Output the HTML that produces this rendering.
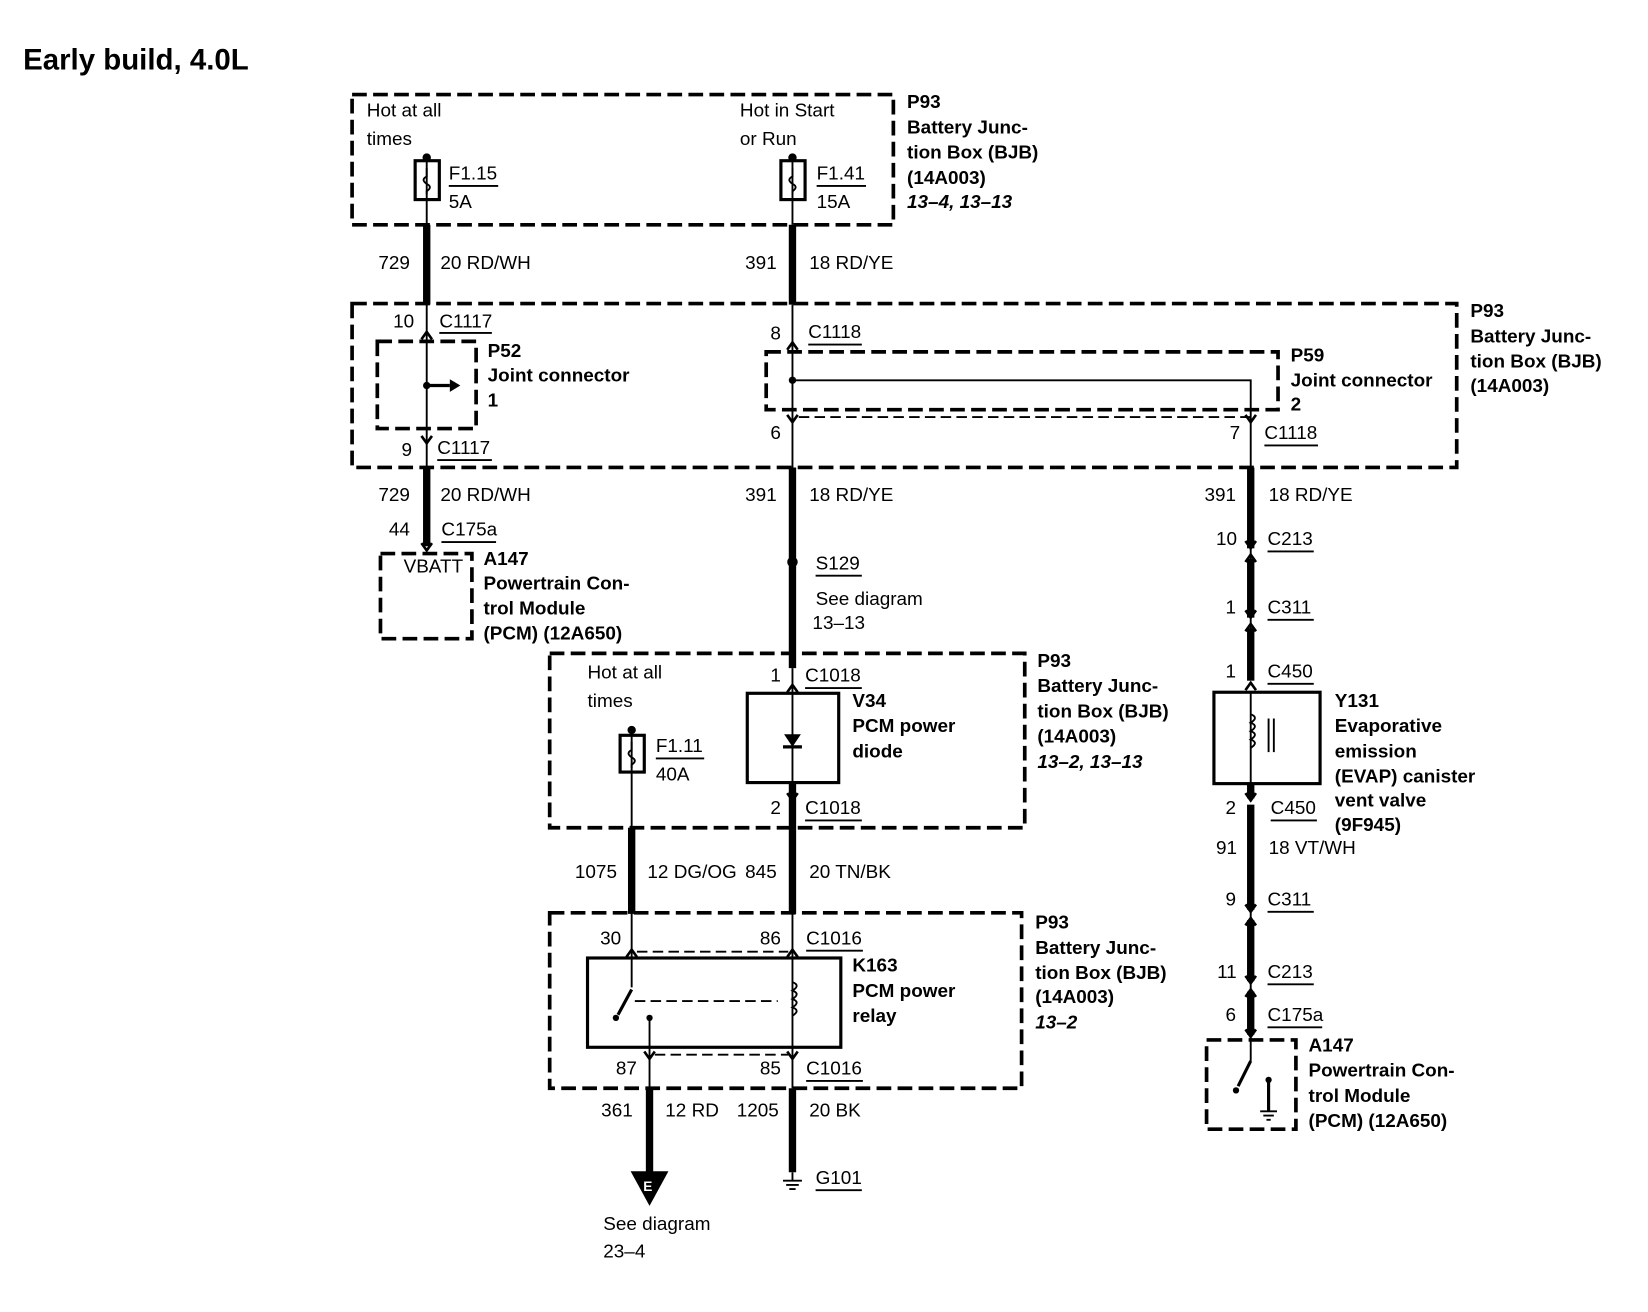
<!DOCTYPE html>
<html><head><meta charset="utf-8"><style>
html,body{margin:0;padding:0;background:#fff}
svg{display:block}
text{font-family:"Liberation Sans",sans-serif;font-size:18px;fill:#000}
.b{font-weight:bold;font-size:18px}
.i{font-weight:bold;font-style:italic;font-size:18px}
.d{fill:none;stroke:#000;stroke-width:3.5;stroke-dasharray:14 6}
.t{stroke:#000;stroke-width:1.8;fill:none}
.k{stroke:#000;stroke-width:7;fill:none}
.s{fill:none;stroke:#000;stroke-width:3}
</style></head><body>
<svg width="1648" height="1312" viewBox="0 0 1568 1249" preserveAspectRatio="none" xmlns="http://www.w3.org/2000/svg">
<defs>
<g id="up"><path d="M-5,5 L0,-2 L5,5" stroke="#000" stroke-width="2.5" fill="none"/></g>
<g id="dn"><path d="M-5,-5 L0,2 L5,-5" stroke="#000" stroke-width="2.5" fill="none"/></g>
</defs>
<text x="22" y="66" class="b" style="font-size:28px">Early build, 4.0L</text>

<rect x="335" y="90" width="515" height="124" class="d"/>
<text x="349" y="111">Hot at all</text><text x="349" y="138">times</text>
<text x="704" y="111">Hot in Start</text><text x="704" y="138">or Run</text>
<line x1="406" y1="150" x2="406" y2="214" class="t"/>
<circle cx="406" cy="150" r="4"/>
<rect x="395" y="153" width="23" height="37" class="s" fill="#fff"/>
<path d="M406,160 v8 q-6,3 0,7 q6,3 0,7 v3" class="t"/>
<text x="427" y="171">F1.15</text><line x1="427" y1="177" x2="474" y2="177" class="t"/><text x="427" y="198">5A</text>
<line x1="754" y1="150" x2="754" y2="214" class="t"/>
<circle cx="754" cy="150" r="4"/>
<rect x="743" y="153" width="23" height="37" class="s"/>
<path d="M754,160 v8 q-6,3 0,7 q6,3 0,7 v3" class="t"/>
<text x="777" y="171">F1.41</text><line x1="777" y1="177" x2="824" y2="177" class="t"/><text x="777" y="198">15A</text>
<text x="863" y="103" class="b">P93</text><text x="863" y="127" class="b">Battery Junc-</text><text x="863" y="151" class="b">tion Box (BJB)</text><text x="863" y="175" class="b">(14A003)</text><text x="863" y="198" class="i">13–4, 13–13</text>

<line x1="406" y1="214" x2="406" y2="290" class="k"/>
<line x1="754" y1="214" x2="754" y2="290" class="k"/>
<text x="360" y="256">729</text><text x="419" y="256">20 RD/WH</text>
<text x="709" y="256">391</text><text x="770" y="256">18 RD/YE</text>

<rect x="335" y="289" width="1051" height="156" class="d"/>
<text x="1399" y="302" class="b">P93</text><text x="1399" y="326" class="b">Battery Junc-</text><text x="1399" y="350" class="b">tion Box (BJB)</text><text x="1399" y="373" class="b">(14A003)</text>
<line x1="406" y1="290" x2="406" y2="445" class="t"/>
<use href="#up" x="406" y="318"/>
<text x="374" y="312">10</text><text x="418" y="312">C1117</text><line x1="418" y1="317" x2="468" y2="317" class="t"/>
<rect x="359" y="325" width="94" height="83" class="d"/>
<circle cx="406" cy="367" r="3.5"/><path d="M406,367 H428" class="s"/><path d="M428,361 L438,367 L428,373 Z"/>
<text x="464" y="340" class="b">P52</text><text x="464" y="363" class="b">Joint connector</text><text x="464" y="387" class="b">1</text>
<use href="#dn" x="406" y="420"/>
<text x="382" y="434">9</text><text x="416" y="432">C1117</text><line x1="416" y1="438" x2="468" y2="438" class="t"/>

<line x1="754" y1="290" x2="754" y2="445" class="t"/>
<use href="#up" x="754" y="328"/>
<text x="733" y="323">8</text><text x="769" y="322">C1118</text><line x1="769" y1="328" x2="820" y2="328" class="t"/>
<rect x="729" y="335" width="487" height="55" class="d"/>
<circle cx="754" cy="362" r="3.5"/>
<path d="M754,362 H1190 V445" class="t"/>
<line x1="760" y1="397" x2="1190" y2="397" class="t" style="stroke-dasharray:10 5"/>
<use href="#dn" x="754" y="400"/><use href="#dn" x="1190" y="400"/>
<text x="733" y="418">6</text><text x="1170" y="418">7</text><text x="1203" y="418">C1118</text><line x1="1203" y1="424" x2="1254" y2="424" class="t"/>
<text x="1228" y="344" class="b">P59</text><text x="1228" y="368" class="b">Joint connector</text><text x="1228" y="391" class="b">2</text>

<line x1="406" y1="445" x2="406" y2="520" class="k"/>
<use href="#dn" x="406" y="522"/>
<text x="360" y="477">729</text><text x="419" y="477">20 RD/WH</text>
<text x="370" y="510">44</text><text x="420" y="510">C175a</text><line x1="420" y1="516" x2="472" y2="516" class="t"/>
<rect x="362" y="527" width="87" height="81" class="d"/>
<text x="384" y="545">VBATT</text>
<text x="460" y="538" class="b">A147</text><text x="460" y="561" class="b">Powertrain Con-</text><text x="460" y="585" class="b">trol Module</text><text x="460" y="609" class="b">(PCM) (12A650)</text>

<line x1="754" y1="445" x2="754" y2="636" class="k"/>
<circle cx="754" cy="535" r="5"/>
<text x="709" y="477">391</text><text x="770" y="477">18 RD/YE</text>
<text x="776" y="542">S129</text><line x1="776" y1="548" x2="820" y2="548" class="t"/>
<text x="776" y="576">See diagram</text><text x="773" y="599">13–13</text>

<line x1="1190" y1="445" x2="1190" y2="659" class="k"/>
<line x1="1190" y1="746" x2="1190" y2="985" class="k"/>
<text x="1146" y="477">391</text><text x="1207" y="477">18 RD/YE</text>
<g fill="#fff" stroke="none">
<rect x="1183" y="522" width="14" height="10"/><rect x="1183" y="588" width="14" height="10"/><rect x="1183" y="648" width="14" height="10"/>
<rect x="1183" y="760" width="14" height="6"/><rect x="1183" y="866" width="14" height="10"/><rect x="1183" y="934" width="14" height="10"/>
</g>
<line x1="1190" y1="515" x2="1190" y2="540" class="t"/>
<use href="#dn" x="1190" y="520"/><use href="#up" x="1190" y="530"/>
<text x="1157" y="519">10</text><text x="1206" y="519">C213</text><line x1="1206" y1="525" x2="1250" y2="525" class="t"/>
<line x1="1190" y1="580" x2="1190" y2="600" class="t"/>
<use href="#dn" x="1190" y="586"/><use href="#up" x="1190" y="596"/>
<text x="1166" y="584">1</text><text x="1206" y="584">C311</text><line x1="1206" y1="590" x2="1250" y2="590" class="t"/>
<use href="#up" x="1190" y="652"/>
<text x="1166" y="645">1</text><text x="1206" y="645">C450</text><line x1="1206" y1="651" x2="1250" y2="651" class="t"/>
<rect x="1155" y="659" width="101" height="87" class="s"/>
<line x1="1190" y1="659" x2="1190" y2="746" class="t"/>
<path d="M1190,680 q8,3 0,8 q8,3 0,8 q8,3 0,8 q8,3 0,8" fill="#fff" class="t"/>
<line x1="1207" y1="684" x2="1207" y2="716" class="t"/><line x1="1212" y1="684" x2="1212" y2="716" class="t"/>
<text x="1270" y="673" class="b">Y131</text><text x="1270" y="697" class="b">Evaporative</text><text x="1270" y="721" class="b">emission</text><text x="1270" y="745" class="b">(EVAP) canister</text><text x="1270" y="768" class="b">vent valve</text><text x="1270" y="791" class="b">(9F945)</text>
<use href="#dn" x="1190" y="760"/>
<text x="1166" y="775">2</text><text x="1209" y="775">C450</text><line x1="1209" y1="781" x2="1253" y2="781" class="t"/>
<text x="1157" y="813">91</text><text x="1207" y="813">18 VT/WH</text>
<line x1="1190" y1="860" x2="1190" y2="880" class="t"/>
<use href="#dn" x="1190" y="866"/><use href="#up" x="1190" y="876"/>
<text x="1166" y="862">9</text><text x="1206" y="862">C311</text><line x1="1206" y1="868" x2="1250" y2="868" class="t"/>
<line x1="1190" y1="928" x2="1190" y2="948" class="t"/>
<use href="#dn" x="1190" y="934"/><use href="#up" x="1190" y="944"/>
<text x="1158" y="931">11</text><text x="1206" y="931">C213</text><line x1="1206" y1="937" x2="1250" y2="937" class="t"/>
<use href="#dn" x="1190" y="985"/>
<text x="1166" y="972">6</text><text x="1206" y="972">C175a</text><line x1="1206" y1="978" x2="1258" y2="978" class="t"/>
<rect x="1148" y="990" width="85" height="85" class="d"/>
<line x1="1190" y1="985" x2="1190" y2="1010" class="t"/>
<line x1="1190" y1="1010" x2="1178" y2="1034" class="s"/>
<circle cx="1176" cy="1038" r="3"/>
<line x1="1207" y1="1028" x2="1207" y2="1058" class="s"/><circle cx="1207" cy="1028" r="3"/>
<path d="M1199,1058 H1215 M1202,1062 H1212 M1205,1066 H1209" class="t"/>
<text x="1245" y="1001" class="b">A147</text><text x="1245" y="1025" class="b">Powertrain Con-</text><text x="1245" y="1049" class="b">trol Module</text><text x="1245" y="1073" class="b">(PCM) (12A650)</text>

<rect x="523" y="622" width="452" height="166" class="d"/>
<text x="559" y="646">Hot at all</text><text x="559" y="673">times</text>
<line x1="601" y1="695" x2="601" y2="788" class="t"/>
<circle cx="601" cy="695" r="4"/>
<rect x="590" y="700" width="23" height="35" class="s" fill="#fff"/>
<path d="M601,706 v8 q-6,3 0,7 q6,3 0,7 v3" class="t"/>
<text x="624" y="716">F1.11</text><line x1="624" y1="722" x2="670" y2="722" class="t"/><text x="624" y="743">40A</text>
<line x1="754" y1="636" x2="754" y2="788" class="t"/>
<use href="#up" x="754" y="654"/>
<text x="733" y="649">1</text><text x="766" y="649">C1018</text><line x1="766" y1="655" x2="820" y2="655" class="t"/>
<rect x="711" y="660" width="87" height="85" class="s"/>
<path d="M746,699 L762,699 L754,711 Z"/><line x1="745" y1="711" x2="763" y2="711" class="s"/>
<use href="#dn" x="754" y="760"/>
<text x="733" y="775">2</text><text x="766" y="775">C1018</text><line x1="766" y1="781" x2="820" y2="781" class="t"/>
<text x="811" y="673" class="b">V34</text><text x="811" y="697" class="b">PCM power</text><text x="811" y="721" class="b">diode</text>
<text x="987" y="635" class="b">P93</text><text x="987" y="659" class="b">Battery Junc-</text><text x="987" y="683" class="b">tion Box (BJB)</text><text x="987" y="707" class="b">(14A003)</text><text x="987" y="731" class="i">13–2, 13–13</text>

<line x1="601" y1="788" x2="601" y2="870" class="k"/>
<line x1="754" y1="745" x2="754" y2="870" class="k"/>
<text x="547" y="836">1075</text><text x="616" y="836">12 DG/OG</text><text x="709" y="836">845</text><text x="770" y="836">20 TN/BK</text>

<rect x="523" y="869" width="449" height="167" class="d"/>
<line x1="601" y1="869" x2="601" y2="912" class="t"/><line x1="754" y1="869" x2="754" y2="1036" class="t"/>
<use href="#up" x="601" y="906"/><use href="#up" x="754" y="906"/>
<line x1="606" y1="906" x2="750" y2="906" class="t" style="stroke-dasharray:10 5"/>
<text x="571" y="899">30</text><text x="723" y="899">86</text><text x="767" y="899">C1016</text><line x1="767" y1="905" x2="821" y2="905" class="t"/>
<rect x="559" y="912" width="241" height="85" class="s"/>
<line x1="601" y1="912" x2="601" y2="940" class="t"/>
<line x1="601" y1="942" x2="588" y2="966" class="s"/>
<circle cx="586" cy="969" r="3"/>
<line x1="604" y1="953" x2="740" y2="953" class="t" style="stroke-dasharray:10 5"/>
<line x1="618" y1="969" x2="618" y2="1036" class="t"/><circle cx="618" cy="969" r="3"/>
<path d="M754,935 q8,3 0,8 q8,3 0,8 q8,3 0,8 q8,3 0,8" fill="#fff" class="t"/>
<line x1="623" y1="1004" x2="750" y2="1004" class="t" style="stroke-dasharray:10 5"/>
<use href="#dn" x="618" y="1006"/><use href="#dn" x="754" y="1006"/>
<text x="586" y="1023">87</text><text x="723" y="1023">85</text><text x="767" y="1023">C1016</text><line x1="767" y1="1029" x2="821" y2="1029" class="t"/>
<text x="811" y="925" class="b">K163</text><text x="811" y="949" class="b">PCM power</text><text x="811" y="973" class="b">relay</text>
<text x="985" y="884" class="b">P93</text><text x="985" y="908" class="b">Battery Junc-</text><text x="985" y="932" class="b">tion Box (BJB)</text><text x="985" y="955" class="b">(14A003)</text><text x="985" y="979" class="i">13–2</text>

<line x1="618" y1="1036" x2="618" y2="1116" class="k"/>
<line x1="754" y1="1036" x2="754" y2="1116" class="k"/>
<text x="572" y="1063">361</text><text x="633" y="1063">12 RD</text><text x="701" y="1063">1205</text><text x="770" y="1063">20 BK</text>
<path d="M600,1115 L636,1115 L618,1148 Z"/>
<text x="612" y="1134" style="fill:#fff;font-size:13px;font-weight:bold">E</text>
<line x1="754" y1="1116" x2="754" y2="1124" class="t"/>
<path d="M745,1124 H763 M748,1128 H760 M751,1132 H757" class="t"/>
<text x="776" y="1127">G101</text><line x1="776" y1="1133" x2="820" y2="1133" class="t"/>
<text x="574" y="1171">See diagram</text><text x="574" y="1197">23–4</text>
</svg>
</body></html>
